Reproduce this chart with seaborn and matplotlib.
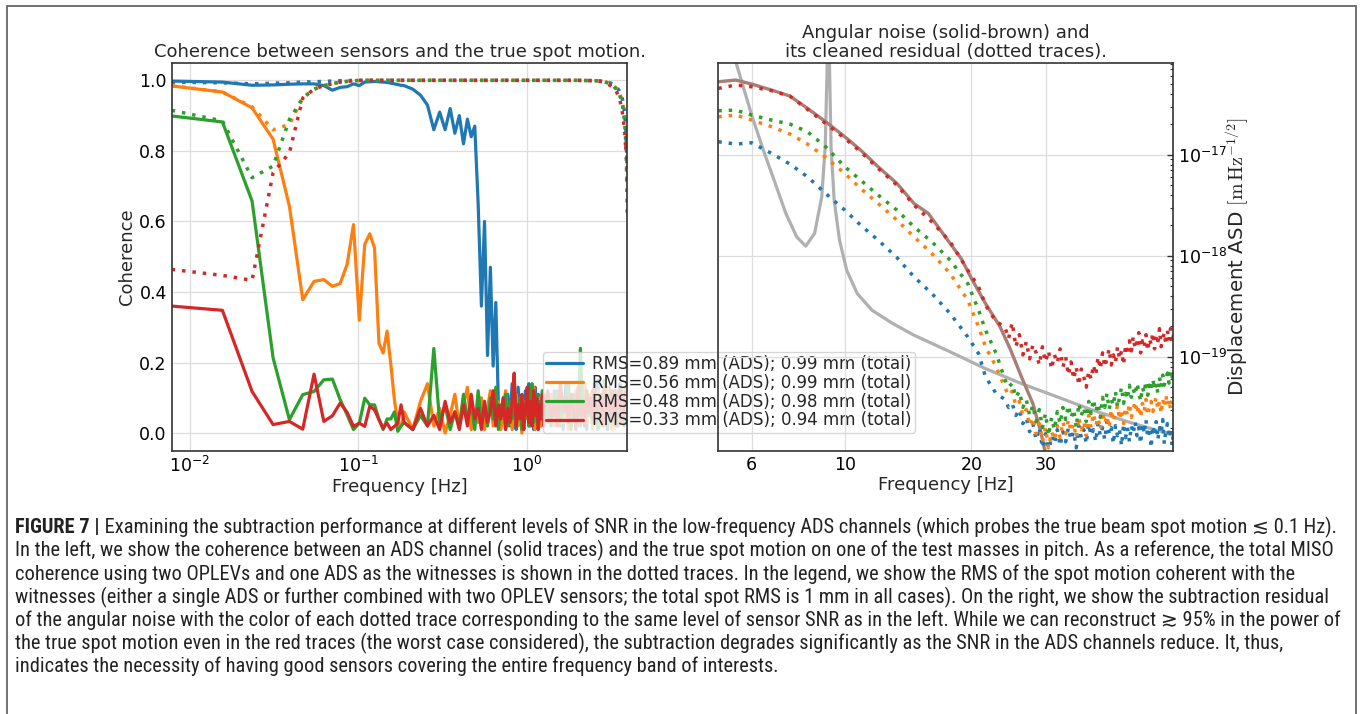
import numpy as np
import matplotlib
matplotlib.use("Agg")
import matplotlib.pyplot as plt
import seaborn as sns
from matplotlib.ticker import FixedLocator, NullFormatter, LogLocator, FuncFormatter
from matplotlib.patches import Rectangle

# ---------------- data: left panel (coherence) ----------------
# FFT bins (df = 1/128 Hz)
bin_width_hz = 1 / 128
ads_bins_low = np.arange(1, 24)
ads_bins_mid = np.arange(24, 166, 3)
ads_bins_high = np.arange(171, 508, 8)
miso_bins = [1, 2, 3, 4, 5, 6, 7, 8, 9, 10, 11, 12,
             14, 16, 20, 30, 60, 120, 250, 330, 360, 380,
             400, 420, 440, 455, 470, 480, 490, 497, 502, 507]

blue_ads_low = [0.998, 0.995, 0.986, 0.987, 0.989, 0.99, 0.99, 0.985, 0.972, 0.98, 0.982, 0.99,
                0.985, 0.995, 0.996, 0.997, 0.996, 0.995, 0.994, 0.992, 0.99, 0.988, 0.986]
orange_ads_low = [0.984, 0.967, 0.922, 0.833, 0.643, 0.378, 0.43, 0.435, 0.416, 0.424, 0.478, 0.591,
                  0.32, 0.535, 0.565, 0.525, 0.255, 0.227, 0.289, 0.194, 0.095, 0.028, 0.02]
green_ads_low = [0.899, 0.882, 0.658, 0.213, 0.038, 0.109, 0.118, 0.151, 0.153, 0.095, 0.052, 0.01,
                 0.028, 0.099, 0.08, 0.08, 0.04, 0.01, 0.04, 0.04, 0.06, 0.005, 0.02]
red_ads_low = [0.36, 0.348, 0.118, 0.024, 0.033, 0.011, 0.167, 0.033, 0.049, 0.085, 0.059, 0.019,
               0.028, 0.019, 0.076, 0.066, 0.038, 0.014, 0.028, 0.01, 0.019, 0.028, 0.08]

blue_ads_mid = [0.985, 0.975, 0.958, 0.93, 0.86, 0.91, 0.86, 0.92, 0.85, 0.90, 0.82, 0.89, 0.84, 0.87,
                0.65, 0.36, 0.60, 0.22, 0.47, 0.19, 0.37, 0.08, 0.03, 0.10, 0.01, 0.11, 0.02, 0.14,
                0.04, 0.01, 0.13, 0.03, 0.09, 0.01, 0.12, 0.05, 0.14, 0.02, 0.09, 0.01, 0.13, 0.04,
                0.11, 0.02, 0.08, 0.12, 0.03, 0.10]
orange_ads_mid = [0.06, 0.01, 0.09, 0.14, 0.02, 0.07, 0.00, 0.05, 0.11, 0.02,
                  0.08, 0.13, 0.01, 0.06, 0.03, 0.10, 0.01, 0.07, 0.12, 0.02,
                  0.05, 0.09, 0.01, 0.06, 0.12, 0.03, 0.08, 0.01, 0.05, 0.11,
                  0.02, 0.07, 0.00, 0.09, 0.04, 0.12, 0.02, 0.08, 0.05, 0.13,
                  0.01, 0.07, 0.03, 0.10, 0.02, 0.06, 0.11, 0.03]
green_ads_mid = [0.03, 0.01, 0.05, 0.02, 0.24, 0.03, 0.08, 0.01, 0.06, 0.02,
                 0.11, 0.04, 0.08, 0.01, 0.12, 0.03, 0.07, 0.02, 0.10, 0.04,
                 0.13, 0.01, 0.08, 0.05, 0.11, 0.02, 0.09, 0.04, 0.13, 0.02,
                 0.07, 0.10, 0.01, 0.08, 0.05, 0.12, 0.02, 0.09, 0.14, 0.03,
                 0.07, 0.11, 0.02, 0.09, 0.05, 0.12, 0.03, 0.08]
red_ads_mid = [0.03, 0.01, 0.07, 0.02, 0.05, 0.01, 0.09, 0.03, 0.06, 0.01,
               0.08, 0.02, 0.11, 0.04, 0.07, 0.01, 0.09, 0.03, 0.06, 0.12,
               0.02, 0.08, 0.04, 0.10, 0.01, 0.07, 0.03, 0.09, 0.17, 0.02,
               0.08, 0.04, 0.11, 0.01, 0.07, 0.13, 0.03, 0.09, 0.02, 0.12,
               0.05, 0.10, 0.01, 0.08, 0.04, 0.11, 0.02, 0.09]

blue_ads_high = [0.08, 0.02, 0.12, 0.05, 0.10, 0.01, 0.14, 0.06, 0.03, 0.11,
                 0.04, 0.09, 0.02, 0.13, 0.07, 0.01, 0.10, 0.05, 0.12, 0.03,
                 0.08, 0.15, 0.02, 0.06, 0.11, 0.04, 0.09, 0.01, 0.13, 0.05,
                 0.08, 0.02, 0.12, 0.06, 0.10, 0.03, 0.14, 0.04, 0.09, 0.02,
                 0.11, 0.07, 0.05]
orange_ads_high = [0.05, 0.11, 0.02, 0.08, 0.13, 0.03, 0.07, 0.01, 0.10, 0.04,
                   0.12, 0.02, 0.09, 0.05, 0.14, 0.03, 0.06, 0.11, 0.01, 0.08,
                   0.04, 0.12, 0.06, 0.02, 0.10, 0.07, 0.03, 0.13, 0.05, 0.09,
                   0.01, 0.11, 0.04, 0.08, 0.12, 0.02, 0.07, 0.10, 0.03, 0.06,
                   0.13, 0.04, 0.08]
green_ads_high = [0.03, 0.09, 0.05, 0.12, 0.02, 0.10, 0.06, 0.14, 0.01, 0.08,
                  0.11, 0.04, 0.24, 0.07, 0.02, 0.12, 0.05, 0.09, 0.03, 0.13,
                  0.06, 0.01, 0.10, 0.04, 0.08, 0.15, 0.02, 0.07, 0.11, 0.05,
                  0.09, 0.03, 0.12, 0.06, 0.02, 0.10, 0.04, 0.13, 0.07, 0.03,
                  0.09, 0.11, 0.06]
red_ads_high = [0.12, 0.04, 0.09, 0.02, 0.14, 0.06, 0.10, 0.03, 0.11, 0.07,
                0.01, 0.13, 0.05, 0.08, 0.02, 0.12, 0.06, 0.10, 0.04, 0.14,
                0.03, 0.09, 0.07, 0.11, 0.02, 0.13, 0.05, 0.08, 0.10, 0.04,
                0.12, 0.06, 0.09, 0.02, 0.11, 0.07, 0.13, 0.03, 0.10, 0.05,
                0.08, 0.12, 0.06]

blue_miso = [0.995, 0.993, 0.99, 0.992, 0.993, 0.995, 0.996, 0.997, 0.998, 0.999, 0.999, 1.0,
             1.0, 1.0, 1.0, 1.0, 1.0, 1.0, 1.0, 0.999, 0.998, 0.996, 0.993, 0.988, 0.98, 0.97,
             0.955, 0.935, 0.90, 0.86, 0.80, 0.74]
orange_miso = [0.985, 0.967, 0.925, 0.86, 0.875, 0.95, 0.975, 0.985, 0.99, 0.995, 0.997, 0.999,
               1.0, 1.0, 1.0, 1.0, 1.0, 1.0, 1.0, 0.999, 0.997, 0.995, 0.991, 0.985, 0.976, 0.964,
               0.948, 0.925, 0.89, 0.85, 0.78, 0.70]
green_miso = [0.915, 0.885, 0.724, 0.757, 0.889, 0.95, 0.975, 0.985, 0.99, 0.995, 0.997, 0.999,
              1.0, 1.0, 1.0, 1.0, 1.0, 1.0, 1.0, 0.999, 0.997, 0.994, 0.99, 0.983, 0.973, 0.96,
              0.94, 0.915, 0.875, 0.82, 0.74, 0.61]
red_miso = [0.464, 0.447, 0.433, 0.738, 0.795, 0.95, 0.975, 0.985, 0.99, 0.995, 0.997, 0.999,
            1.0, 1.0, 1.0, 1.0, 1.0, 1.0, 1.0, 0.999, 0.996, 0.992, 0.986, 0.978, 0.965, 0.95,
            0.92, 0.89, 0.85, 0.80, 0.84, 0.72]

legend_labels = ["RMS=0.89 mm (ADS); 0.99 mm (total)",
                 "RMS=0.56 mm (ADS); 0.99 mm (total)",
                 "RMS=0.48 mm (ADS); 0.98 mm (total)",
                 "RMS=0.33 mm (ADS); 0.94 mm (total)"]

# ---------------- data: right panel (ASD, log10 of m/rtHz) ----------------
angular_freq = [5.0, 5.5, 6.0, 6.7, 7.4, 8.15, 9.0, 10.0, 10.9, 12.0, 13.3, 14.6, 15.8, 17.1,
                18.9, 20.0, 21.6, 23.4, 24.8, 26.3, 28.0, 29.3, 29.9, 30.5]
angular_log10 = [-16.277, -16.261, -16.300, -16.360, -16.419, -16.541, -16.673, -16.822, -16.954,
                 -17.119, -17.284, -17.482, -17.581, -17.779, -18.026, -18.224, -18.472, -18.703,
                 -18.934, -19.198, -19.462, -19.759, -19.931, -20.3]

model_freq = [5.3, 5.51, 6.02, 6.44, 6.83, 7.24, 7.68, 8.07, 8.47, 8.81, 8.98, 9.09, 9.14, 9.19,
              9.27, 9.43, 9.71, 10.1, 10.7, 11.6, 13.0, 14.6, 17.8, 21.6, 26.3, 32.0, 38.9, 47.3, 60.5]
model_log10 = [-15.9, -16.089, -16.624, -16.987, -17.284, -17.581, -17.812, -17.904, -17.779,
               -17.416, -16.92, -16.0, -15.5, -16.09, -16.92, -17.449, -17.845, -18.142, -18.373,
               -18.538, -18.670, -18.785, -18.950, -19.116, -19.264, -19.396, -19.528, -19.644,
               -19.776]

resid_freq_smooth = [5.0, 5.5, 6.0, 6.7, 7.4, 8.15, 9.0, 10.0, 10.9, 12.0, 13.3, 14.6, 16.1, 17.8,
                     19.6, 20.8, 21.6, 22.9]
resid_freq_noisy = np.arange(24.0, 60.6, 0.5)

blue_resid_smooth = [-16.871, -16.894, -16.881, -16.987, -17.092, -17.218, -17.383, -17.548, -17.696,
                     -17.845, -18.017, -18.208, -18.373, -18.571, -18.802, -18.967, -19.198, -19.363]
orange_resid_smooth = [-16.624, -16.607, -16.657, -16.723, -16.795, -16.894, -17.026, -17.185, -17.333,
                       -17.482, -17.647, -17.812, -17.977, -18.175, -18.439, -18.703, -18.901, -19.099]
green_resid_smooth = [-16.564, -16.558, -16.607, -16.657, -16.696, -16.772, -16.921, -17.119, -17.251,
                      -17.399, -17.548, -17.713, -17.861, -18.043, -18.274, -18.538, -18.736, -18.967]
red_resid_smooth = [-16.343, -16.310, -16.327, -16.366, -16.419, -16.551, -16.690, -16.838, -16.970,
                    -17.135, -17.300, -17.498, -17.663, -17.861, -18.142, -18.307, -18.488, -18.653]

blue_resid_noisy = [-19.42, -19.50, -19.46, -19.58, -19.52, -19.66, -19.60, -19.74, -19.66, -19.82,
                    -19.70, -19.90, -19.76, -19.96, -19.78, -19.86, -19.72, -19.88, -19.74, -19.84,
                    -19.70, -19.82, -19.74, -19.90, -19.68, -19.80, -19.72, -19.86, -19.66, -19.78,
                    -19.72, -19.84, -19.66, -19.78, -19.70, -19.82, -19.64, -19.76, -19.70, -19.86,
                    -19.68, -19.78, -19.72, -19.88, -19.66, -19.80, -19.70, -19.84, -19.68, -19.76,
                    -19.64, -19.78, -19.70, -19.86, -19.66, -19.76, -19.62, -19.80, -19.70, -19.90,
                    -19.68, -19.78, -19.64, -19.82, -19.70, -19.76, -19.62, -19.86, -19.72, -19.66,
                    -19.80, -19.70, -19.88, -19.74]
orange_resid_noisy = [-19.30, -19.38, -19.34, -19.48, -19.44, -19.58, -19.52, -19.68, -19.60, -19.76,
                      -19.66, -19.84, -19.70, -19.90, -19.74, -19.82, -19.68, -19.80, -19.64, -19.76,
                      -19.62, -19.74, -19.66, -19.80, -19.60, -19.72, -19.64, -19.78, -19.58, -19.70,
                      -19.56, -19.68, -19.60, -19.72, -19.54, -19.66, -19.58, -19.70, -19.52, -19.64,
                      -19.56, -19.48, -19.62, -19.52, -19.66, -19.50, -19.58, -19.46, -19.60, -19.52,
                      -19.44, -19.56, -19.48, -19.60, -19.46, -19.54, -19.42, -19.58, -19.50, -19.44,
                      -19.54, -19.46, -19.40, -19.52, -19.44, -19.56, -19.42, -19.50, -19.38, -19.48,
                      -19.42, -19.52, -19.40, -19.46]
green_resid_noisy = [-19.22, -19.30, -19.26, -19.40, -19.34, -19.50, -19.42, -19.58, -19.48, -19.64,
                     -19.52, -19.70, -19.56, -19.78, -19.60, -19.72, -19.54, -19.66, -19.50, -19.62,
                     -19.48, -19.60, -19.52, -19.70, -19.46, -19.58, -19.50, -19.64, -19.44, -19.56,
                     -19.42, -19.54, -19.46, -19.60, -19.40, -19.50, -19.36, -19.52, -19.42, -19.48,
                     -19.34, -19.50, -19.40, -19.30, -19.46, -19.36, -19.42, -19.28, -19.40, -19.32,
                     -19.38, -19.26, -19.34, -19.44, -19.30, -19.36, -19.24, -19.38, -19.28, -19.34,
                     -19.22, -19.32, -19.26, -19.36, -19.20, -19.30, -19.18, -19.28, -19.22, -19.16,
                     -19.26, -19.14, -19.20, -19.12]
red_resid_noisy = [-18.70, -18.82, -18.66, -18.90, -18.78, -18.98, -18.85, -19.02, -18.88, -18.96,
                   -19.08, -18.90, -19.05, -18.94, -19.12, -18.98, -19.06, -18.92, -19.10, -19.00,
                   -19.18, -19.05, -19.22, -19.10, -19.28, -19.12, -19.20, -19.30, -19.14, -19.22,
                   -19.08, -19.18, -19.00, -19.12, -18.96, -19.10, -19.02, -18.92, -19.08, -18.98,
                   -19.06, -18.90, -19.02, -18.94, -19.08, -18.88, -18.98, -18.84, -18.94, -18.80,
                   -18.92, -18.86, -18.76, -18.96, -18.84, -18.90, -18.78, -18.94, -18.82, -18.88,
                   -18.76, -18.92, -18.80, -18.86, -18.72, -18.90, -18.82, -18.76, -18.88, -18.74,
                   -18.84, -18.72, -18.86, -18.78]

right_xticks = [6, 10, 20, 30]
right_yticks = [1e-19, 1e-18, 1e-17]

caption_bold = "FIGURE 7 |"
caption_lines = [
    " Examining the subtraction performance at different levels of SNR in the low-frequency ADS channels (which probes the true beam spot motion \u2272 0.1 Hz).",
    "In the left, we show the coherence between an ADS channel (solid traces) and the true spot motion on one of the test masses in pitch. As a reference, the total MISO",
    "coherence using two OPLEVs and one ADS as the witnesses is shown in the dotted traces. In the legend, we show the RMS of the spot motion coherent with the",
    "witnesses (either a single ADS or further combined with two OPLEV sensors; the total spot RMS is 1 mm in all cases). On the right, we show the subtraction residual",
    "of the angular noise with the color of each dotted trace corresponding to the same level of sensor SNR as in the left. While we can reconstruct \u2273 95% in the power of",
    "the true spot motion even in the red traces (the worst case considered), the subtraction degrades significantly as the SNR in the ADS channels reduce. It, thus,",
    "indicates the necessity of having good sensors covering the entire frequency band of interests.",
]

# ---------------- style ----------------
sns.set_style("white")
plt.rcParams["font.family"] = ["DejaVu Sans"]
plt.rcParams.update({
    "axes.edgecolor": "#333333",
    "axes.linewidth": 1.2,
    "xtick.direction": "in",
    "ytick.direction": "in",
    "xtick.color": "#333333",
    "ytick.color": "#333333",
    "xtick.labelcolor": "black",
    "ytick.labelcolor": "black",
})

W, H = 1360, 714
fig = plt.figure(figsize=(W / 100, H / 100), dpi=100)
ax1 = fig.add_axes([171.7 / W, 1 - 450.7 / H, (627.3 - 171.7) / W, (450.7 - 62.7) / H])
ax2 = fig.add_axes([718.3 / W, 1 - 450.7 / H, (1173.3 - 718.3) / W, (450.7 - 62.7) / H])
ax2.set_facecolor("none")

pal = sns.color_palette("tab10")
cols = [pal[0], pal[1], pal[2], pal[3]]
dot_style = (0, (1, 2))

# ---------------- left panel ----------------
f_ads = np.concatenate([ads_bins_low, ads_bins_mid, ads_bins_high]) * bin_width_hz
f_miso = np.array(miso_bins) * bin_width_hz
ads_series = [blue_ads_low + blue_ads_mid + blue_ads_high,
              orange_ads_low + orange_ads_mid + orange_ads_high,
              green_ads_low + green_ads_mid + green_ads_high,
              red_ads_low + red_ads_mid + red_ads_high]
miso_series = [blue_miso, orange_miso, green_miso, red_miso]

handles = []
for ads, miso, c in zip(ads_series, miso_series, cols):
    sns.lineplot(x=f_ads, y=ads, ax=ax1, color=c, lw=2.3, sort=False, estimator=None)
    handles.append(ax1.lines[-1])
    sns.lineplot(x=f_miso, y=miso, ax=ax1, color=c, lw=2.5, linestyle=dot_style,
                 sort=False, estimator=None)

ax1.set_xscale("log")
ax1.set_xlim(1 / 128, 507 / 128)
ax1.set_ylim(-0.05, 1.05)
ax1.set_yticks([0.0, 0.2, 0.4, 0.6, 0.8, 1.0])
ax1.set_yticklabels(["0.0", "0.2", "0.4", "0.6", "0.8", "1.0"])
ax1.grid(True, which="major", color="#dddddd", lw=0.9)
ax1.set_axisbelow(True)
ax1.tick_params(which="major", length=4, width=1, labelsize=12.5)
ax1.tick_params(which="minor", length=2.5, width=0.8)
ax1.set_xlabel("Frequency [Hz]", fontsize=13, labelpad=2)
ax1.set_ylabel("Coherence", fontsize=13, labelpad=2)
ax1.set_title("Coherence between sensors and the true spot motion.", fontsize=13, pad=4)
for sp in ax1.spines.values():
    sp.set_zorder(6)

leg = ax1.legend(handles, legend_labels, loc="lower left",
                 bbox_to_anchor=((543 - 171.7) / 455.6, (450.7 - 432.7) / 388.0),
                 borderaxespad=0, fontsize=12, labelspacing=0.05, handlelength=2.2,
                 handletextpad=0.55, borderpad=0.2, framealpha=0.8, edgecolor="#cccccc",
                 fancybox=True)

# ---------------- right panel ----------------
sns.lineplot(x=model_freq, y=10.0 ** np.array(model_log10), ax=ax2, color="#b0b0b0", lw=2.3,
             sort=False, estimator=None)
sns.lineplot(x=angular_freq, y=10.0 ** np.array(angular_log10), ax=ax2, color="#a67f75", lw=2.4,
             sort=False, estimator=None)
resid_f = np.concatenate([resid_freq_smooth, resid_freq_noisy])
resid_series = [blue_resid_smooth + blue_resid_noisy,
                orange_resid_smooth + orange_resid_noisy,
                green_resid_smooth + green_resid_noisy,
                red_resid_smooth + red_resid_noisy]
for vals, c in zip(resid_series, cols):
    sns.lineplot(x=resid_f, y=10.0 ** np.array(vals), ax=ax2, color=c, lw=2.5,
                 linestyle=dot_style, sort=False, estimator=None)

ax2.set_xscale("log")
ax2.set_yscale("log")
ax2.set_xlim(5.0, 60.4)
ax2.set_ylim(1.18e-20, 8.15e-17)
ax2.xaxis.set_major_locator(FixedLocator(right_xticks))
ax2.xaxis.set_major_formatter(FuncFormatter(lambda v, p: f"{v:g}"))
ax2.xaxis.set_minor_locator(LogLocator(base=10, subs=np.arange(2, 10)))
ax2.xaxis.set_minor_formatter(NullFormatter())
ax2.yaxis.set_major_locator(FixedLocator(right_yticks))
ax2.yaxis.set_minor_locator(LogLocator(base=10, subs=np.arange(2, 10)))
ax2.yaxis.set_minor_formatter(NullFormatter())
ax2.yaxis.tick_right()
ax2.yaxis.set_label_position("right")
ax2.grid(True, which="major", color="#dddddd", lw=0.9)
ax2.set_axisbelow(True)
ax2.tick_params(which="major", length=4, width=1, labelsize=12.5)
ax2.tick_params(which="minor", length=2.5, width=0.8)
ax2.set_xlabel("Frequency [Hz]", fontsize=13, labelpad=2)
ax2.set_ylabel(r"Displacement ASD $[\mathrm{m\,Hz^{-1/2}}]$", fontsize=14.3,
               math_fontfamily="cm", labelpad=-3)
ax2.set_title("Angular noise (solid-brown) and\nits cleaned residual (dotted traces).",
              fontsize=13, pad=4, linespacing=1.05)

# ---------------- border and caption ----------------
fig.add_artist(Rectangle((7.3 / W, -0.05), (1355.7 - 7.3) / W, 1.05 - 6 / H,
                         transform=fig.transFigure, fill=False, edgecolor="#666666", lw=1.3))

cap_family = ["Liberation Sans Narrow", "Roboto Condensed", "Liberation Sans", "DejaVu Sans"]
y_centers = [527.7 + 23.17 * i for i in range(len(caption_lines))]
size0 = 12.0
x_left = 15.0
tb = fig.text(x_left / W, 1 - y_centers[0] / H, caption_bold, fontsize=size0, fontweight="bold",
              family=cap_family, va="center", ha="left", color="#222222")
cap_texts = []
for i, line in enumerate(caption_lines):
    cap_texts.append(fig.text(x_left / W, 1 - y_centers[i] / H, line, fontsize=size0,
                              family=cap_family, va="center", ha="left", color="#222222"))

fig.canvas.draw()
r = fig.canvas.get_renderer()
wb = tb.get_window_extent(r).width
widths = [t.get_window_extent(r).width for t in cap_texts]
widths[0] += wb
# right ends of the widest lines in the reference (line index: x end)
right_ends = {0: 1347, 1: 1336, 3: 1335, 4: 1338}
size1 = size0 * min((re - x_left) / widths[i] for i, re in right_ends.items())
tb.set_fontsize(size1)
for t in cap_texts:
    t.set_fontsize(size1)
fig.canvas.draw()
wb = tb.get_window_extent(r).width
cap_texts[0].set_x((x_left + wb) / W)

fig.savefig("out.png", dpi=100)
